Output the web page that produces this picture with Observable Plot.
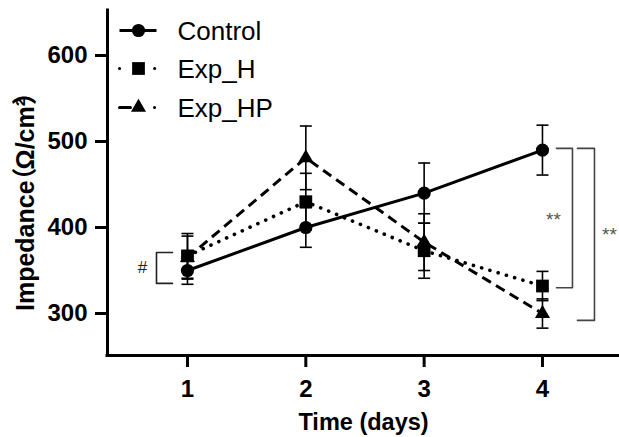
<!DOCTYPE html>
<html>
<head>
<meta charset="utf-8">
<script src="https://cdn.jsdelivr.net/npm/d3@7"></script>
<script src="https://cdn.jsdelivr.net/npm/@observablehq/plot@0.6"></script>
<style>
  html, body { margin: 0; padding: 0; background: #fff; }
  #chart svg { display: block; }
</style>
</head>
<body>
<div id="chart"></div>
<script>
// ---- data ----
const days = [1, 2, 3, 4];
const seriesNames = ["Control", "Exp_H", "Exp_HP"];
const controlMean = [350, 400, 440, 490];
const controlSD   = [16, 23, 35, 29];
const expHMean    = [367, 430, 373, 332];
const expHSD      = [26, 33, 32, 17];
const expHPMean   = [365, 481, 383, 300];
const expHPSD     = [25, 37, 33, 17];
const xTicks = [1, 2, 3, 4];
const yTicks = [300, 400, 500, 600];
const xLabel = "Time (days)";
const yLabel = "Impedance（Ω/cm²）";
// significance annotations: [day, low value, high value, label]
const sigHash = {day: 1, lo: 335, hi: 371, label: "#"};
const sigStar1 = {day: 4, lo: 330, hi: 492, label: "**"};
const sigStar2 = {day: 4, lo: 292, hi: 492, label: "**"};

// ---- layout ----
const W = 619, H = 437;
const mL = 107, mR = 0, mT = 10, mB = 82;
const xDomain = [0.324, 4.651];
const yDomain = [251.2, 652.3];
const pxPerX = (W - mL - mR) / (xDomain[1] - xDomain[0]);
const pxPerY = (H - mT - mB) / (yDomain[1] - yDomain[0]);
const Xp = px => xDomain[0] + (px - mL) / pxPerX;            // pixel -> x value
const Yp = py => yDomain[0] + (H - mB - py) / pxPerY;        // pixel -> y value

const styles = {
  Control: {symbol: "circle", r: 6.6, dash: null, legendDash: null},
  Exp_H:   {symbol: "square", r: 7.2, dash: "0.1,8.5", legendDash: "0.1,35"},
  Exp_HP:  {symbol: "triangle", r: 5.6, dash: "10,6", legendDash: "11,24,0.1,20"}
};

const means = {Control: controlMean, Exp_H: expHMean, Exp_HP: expHPMean};
const sds = {Control: controlSD, Exp_H: expHSD, Exp_HP: expHPSD};
const rows = [];
for (const s of seriesNames) days.forEach((d, i) => rows.push({series: s, day: d, mean: means[s][i], sd: sds[s][i]}));

const drawOrder = ["Exp_HP", "Exp_H", "Control"];
const capHalf = 6 / pxPerX;

const marks = [];
// axes lines
marks.push(Plot.ruleX([xDomain[0]], {stroke: "#000", strokeWidth: 3, strokeLinecap: "square"}));
marks.push(Plot.ruleY([yDomain[0]], {stroke: "#000", strokeWidth: 3, strokeLinecap: "square"}));
marks.push(Plot.axisY({ticks: yTicks, tickSize: 12, tickPadding: 8, strokeWidth: 3, fontSize: 24, fontWeight: "bold", label: null, tickFormat: d => String(d)}));
marks.push(Plot.axisX({ticks: xTicks, tickSize: 12, tickPadding: 12, strokeWidth: 3, fontSize: 24, fontWeight: "bold", label: null, tickFormat: d => String(d)}));

// series lines
for (const s of drawOrder) {
  const st = styles[s];
  marks.push(Plot.line(rows.filter(r => r.series === s), {
    x: "day", y: "mean", stroke: "#000", strokeWidth: s === "Exp_H" ? 3.6 : 3,
    strokeDasharray: st.dash, strokeLinecap: s === "Exp_H" ? "round" : "butt"
  }));
}
// error bars
for (const s of drawOrder) {
  const data = rows.filter(r => r.series === s);
  marks.push(Plot.ruleX(data, {x: "day", y1: d => d.mean - d.sd, y2: d => d.mean + d.sd, stroke: "#000", strokeWidth: 1.6}));
  marks.push(Plot.link(data, {x1: d => d.day - capHalf, x2: d => d.day + capHalf, y1: d => d.mean + d.sd, y2: d => d.mean + d.sd, stroke: "#000", strokeWidth: 1.6}));
  marks.push(Plot.link(data, {x1: d => d.day - capHalf, x2: d => d.day + capHalf, y1: d => d.mean - d.sd, y2: d => d.mean - d.sd, stroke: "#000", strokeWidth: 1.6}));
}
// markers
for (const s of drawOrder) {
  const st = styles[s];
  marks.push(Plot.dot(rows.filter(r => r.series === s), {x: "day", y: "mean", symbol: () => st.symbol, r: st.r, fill: "#000", stroke: "none"}));
}

// legend
const legendRowsPx = [30, 68, 107];
const legend = seriesNames.map((s, i) => ({series: s, y: Yp(legendRowsPx[i])}));
for (const item of legend) {
  const st = styles[item.series];
  marks.push(Plot.link([item], {x1: Xp(119), x2: Xp(156), y1: "y", y2: "y", stroke: "#000", strokeWidth: 3,
    strokeDasharray: st.legendDash, strokeLinecap: item.series === "Control" ? "butt" : "round"}));
  marks.push(Plot.dot([item], {x: Xp(138), y: "y", symbol: () => st.symbol, r: st.r, fill: "#000", stroke: "none"}));
  marks.push(Plot.text([item], {x: Xp(177), y: "y", text: "series", textAnchor: "start", lineAnchor: "middle", fontSize: 26, fontWeight: "normal", fill: "#000", dy: 1}));
}

// significance brackets
function bracket(sig, vxPx, armPx, color) {
  const vx = sig.day + vxPx / pxPerX, ax = sig.day + armPx / pxPerX;
  return Plot.line([{x: ax, y: sig.hi}, {x: vx, y: sig.hi}, {x: vx, y: sig.lo}, {x: ax, y: sig.lo}],
    {x: "x", y: "y", stroke: color, strokeWidth: 1.6, curve: "linear"});
}
marks.push(bracket(sigHash, -31, -15, "#222"));
marks.push(bracket(sigStar1, 30, 14, "#444"));
marks.push(bracket(sigStar2, 52, 35, "#444"));
marks.push(Plot.text([sigHash], {x: d => d.day - 45 / pxPerX, y: d => (d.lo + d.hi) / 2, text: "label", fontSize: 17, fontWeight: "normal", fill: "#222"}));
marks.push(Plot.text([{label: sigStar1.label}], {x: () => sigStar1.day + 11 / pxPerX, y: () => Yp(219), text: "label", fontSize: 19, fontWeight: "normal", fill: "#555"}));
marks.push(Plot.text([{label: sigStar2.label}], {x: () => sigStar2.day + 67 / pxPerX, y: () => Yp(234), text: "label", fontSize: 19, fontWeight: "normal", fill: "#555"}));

// axis titles
marks.push(Plot.text([xLabel], {frameAnchor: "bottom", text: d => d, textAnchor: "middle", lineAnchor: "middle", dy: 67, fontSize: 23.5, fontWeight: "bold", fill: "#000"}));
marks.push(Plot.text([yLabel], {frameAnchor: "left", text: d => d, textAnchor: "start", lineAnchor: "middle", dx: -82, dy: 128, rotate: -90, fontSize: 25, fontWeight: "bold", fill: "#000"}));

const chart = Plot.plot({
  width: W, height: H,
  marginLeft: mL, marginRight: mR, marginTop: mT, marginBottom: mB,
  x: {domain: xDomain, axis: null},
  y: {domain: yDomain, axis: null},
  style: {fontFamily: "'Liberation Sans', Arial, 'Noto Sans CJK SC', sans-serif", background: "#fff", color: "#000", overflow: "visible"},
  marks
});
document.getElementById("chart").appendChild(chart);

// tighten the full-width parentheses of the y title (text stays the same string)
d3.select(chart).selectAll("text").filter(function () { return this.textContent === yLabel; }).each(function () {
  const t = d3.select(this);
  t.text(null);
  t.append("tspan").text("Impedance");
  t.append("tspan").attr("dx", -12).text("（");
  t.append("tspan").attr("dx", -2).text("Ω/cm²");
  t.append("tspan").attr("dx", -7).text("）");
});
</script>
</body>
</html>
